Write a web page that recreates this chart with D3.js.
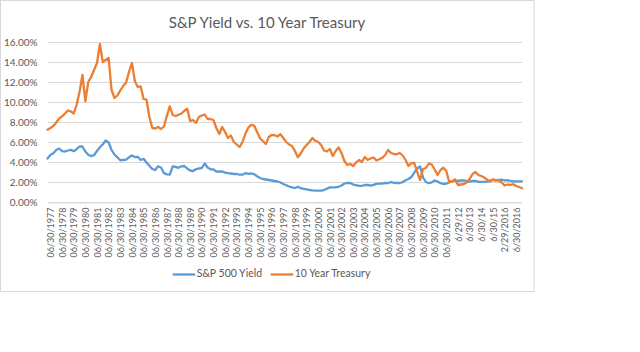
<!DOCTYPE html>
<html>
<head>
<meta charset="utf-8">
<script src="https://cdn.jsdelivr.net/npm/d3@7"></script>
<style>
  body { margin: 0; background: #fff; }
  svg { display: block; }
  text { font-family: Lato, "Open Sans", sans-serif; fill: #595959; }
</style>
</head>
<body>
<svg id="chart" width="640" height="352"></svg>
<script>
// ---- Data ----
const spYield = [
  4.35, 4.7, 4.87, 5.2, 5.35, 5.08, 5.05, 5.15, 5.22, 5.08,
  5.28, 5.55, 5.55, 5.05, 4.72, 4.58, 4.68, 5.1, 5.47, 5.78,
  6.15, 5.95, 5.2, 4.75, 4.47, 4.17, 4.2, 4.23, 4.47, 4.65,
  4.5, 4.52, 4.2, 4.32, 3.95, 3.62, 3.3, 3.2, 3.57, 3.45,
  2.88, 2.77, 2.73, 3.57, 3.52, 3.42, 3.57, 3.6, 3.35, 3.15,
  3.1, 3.28, 3.35, 3.4, 3.85, 3.45, 3.27, 3.25, 3.03, 3.07,
  3.05, 2.94, 2.88, 2.85, 2.8, 2.8, 2.73, 2.73, 2.88, 2.82,
  2.85, 2.78, 2.57, 2.4, 2.3, 2.25, 2.2, 2.15, 2.1, 2.05,
  1.95, 1.8, 1.68, 1.55, 1.47, 1.4, 1.53, 1.38, 1.31, 1.27,
  1.2, 1.16, 1.13, 1.13, 1.13, 1.19, 1.34, 1.46, 1.47, 1.47,
  1.52, 1.65, 1.85, 1.92, 1.9, 1.74, 1.68, 1.62, 1.62, 1.7,
  1.72, 1.63, 1.72, 1.82, 1.84, 1.84, 1.9, 1.88, 2.0, 1.92,
  1.9, 1.9, 1.98, 2.18, 2.3, 2.5, 2.93, 3.35, 3.55, 2.45,
  2.0, 1.88, 1.96, 2.15, 2.05, 1.88, 1.8, 1.83, 1.97, 2.08,
  2.13, 2.1, 2.15, 2.17, 2.1, 2.04, 2.1, 2.12, 2.02, 2.02,
  2.01, 2.03, 2.13, 2.2, 2.15, 2.22, 2.23, 2.15, 2.18, 2.12,
  2.07, 2.07, 2.07, 2.07
];
const treasury = [
  7.23, 7.4, 7.6, 7.95, 8.35, 8.57, 8.85, 9.15, 9.07, 8.85,
  9.7, 11.0, 12.7, 10.1, 12.0, 12.5, 13.2, 13.9, 15.8, 14.0,
  14.2, 14.4, 11.2, 10.4, 10.65, 11.15, 11.6, 11.95, 13.0, 13.9,
  12.1, 11.5, 11.57, 10.3, 10.23, 8.5, 7.4, 7.35, 7.5, 7.3,
  7.55, 8.6, 9.57, 8.7, 8.6, 8.72, 8.85, 9.12, 9.33, 8.1,
  8.2, 7.9, 8.5, 8.65, 8.75, 8.3, 8.3, 8.2, 7.4, 6.8,
  7.5, 7.0, 6.4, 6.65, 6.0, 5.75, 5.5, 6.0, 6.85, 7.45,
  7.72, 7.65, 7.0, 6.37, 6.1, 5.8, 6.5, 6.7, 6.68, 6.55,
  6.78, 6.4, 6.0, 5.75, 5.6, 5.1, 4.48, 4.85, 5.35, 5.7,
  6.0, 6.4, 6.12, 6.0, 5.7, 5.15, 5.05, 5.3, 4.6, 5.1,
  5.45, 4.9, 4.1, 3.7, 3.8, 3.6, 3.95, 4.2, 4.0, 4.5,
  4.22, 4.35, 4.45, 4.15, 4.27, 4.42, 4.7, 5.2, 4.9, 4.8,
  4.77, 4.9, 4.65, 4.2, 3.6, 3.88, 3.9, 3.0, 2.2, 3.3,
  3.4, 3.85, 3.75, 3.25, 2.7, 3.2, 3.43, 3.1, 2.0, 2.05,
  2.27, 1.7, 1.75, 1.8, 1.95, 2.3, 2.78, 3.0, 2.7, 2.6,
  2.45, 2.22, 2.05, 2.25, 2.2, 2.15, 1.95, 1.65, 1.75, 1.7,
  1.78, 1.6, 1.5, 1.37
];
const tickLabels = [
  "06/30/1977", "06/30/1978", "06/30/1979", "06/30/1980", "06/30/1981",
  "06/30/1982", "06/30/1983", "06/30/1984", "06/30/1985", "06/30/1986",
  "06/30/1987", "06/30/1988", "06/30/1989", "06/30/1990", "06/30/1991",
  "06/30/1992", "06/30/1993", "06/30/1994", "06/30/1995", "06/30/1996",
  "06/30/1997", "06/30/1998", "06/30/1999", "06/30/2000", "06/30/2001",
  "06/30/2002", "06/30/2003", "06/30/2004", "06/30/2005", "06/30/2006",
  "06/30/2007", "06/30/2008", "06/30/2009", "06/30/2010", "06/30/2011",
  "6/29/12", "6/30/13", "6/30/14", "6/30/15", "2/29/2016", "6/30/2016"
];
const tickStart = 1, tickStep = 4;   // labelled category every 4th point
const yTicks = [0, 2, 4, 6, 8, 10, 12, 14, 16];
const seriesNames = ["S&P 500 Yield", "10 Year Treasury"];
const seriesColors = ["#5B9BD5", "#ED7D31"];
const chartTitle = "S&P Yield vs. 10 Year Treasury";

// ---- Layout ----
const svg = d3.select("#chart");
const plotL = 47.5, plotR = 522, plotT = 42, plotB = 202;

svg.append("rect")
  .attr("x", 0.5).attr("y", 0.5).attr("width", 533.5).attr("height", 291)
  .attr("fill", "#fff").attr("stroke", "#D9D9D9").attr("stroke-width", 1);

const N = spYield.length;
const x = d3.scaleLinear().domain([0, N - 1]).range([plotL, plotR]);
const y = d3.scaleLinear().domain([0, 16]).range([plotB, plotT]);

// title
svg.append("text")
  .attr("x", 267).attr("y", 24)
  .attr("text-anchor", "middle").attr("dominant-baseline", "middle")
  .style("font-size", "15px")
  .text(chartTitle);

// gridlines
svg.append("g").selectAll("line").data(yTicks).join("line")
  .attr("x1", plotL).attr("x2", plotR)
  .attr("y1", d => Math.round(y(d)) + 0.5).attr("y2", d => Math.round(y(d)) + 0.5)
  .attr("stroke", "#D9D9D9").attr("stroke-width", 1);

// y axis
const yAxis = svg.append("g")
  .attr("transform", `translate(${plotL},0.5)`)
  .call(d3.axisLeft(y).tickValues(yTicks).tickFormat(d => d.toFixed(2) + "%").tickSize(0).tickPadding(10));
yAxis.select(".domain").remove();
yAxis.selectAll("text").style("font-size", "10px").style("font-family", "Lato, sans-serif").attr("fill", "#595959");

// x axis
const tickIdx = tickLabels.map((_, i) => tickStart + i * tickStep);
const xAxis = svg.append("g")
  .attr("transform", `translate(0,${Math.round(plotB) + 0.5})`)
  .call(d3.axisBottom(x).tickValues(tickIdx).tickFormat((d, i) => tickLabels[i]).tickSize(0).tickSizeOuter(0));
xAxis.select(".domain").attr("stroke", "#D9D9D9");
xAxis.selectAll("text")
  .attr("transform", "rotate(-90)")
  .attr("x", -5).attr("y", 0).attr("dy", "0.35em")
  .style("text-anchor", "end")
  .style("font-size", "9px").style("font-family", "Lato, sans-serif")
  .attr("fill", "#6b6b6b");

// lines
const line = d3.line().x((d, i) => x(i)).y(d => y(d));
[spYield, treasury].forEach((s, k) => {
  svg.append("path").datum(s)
    .attr("d", line)
    .attr("fill", "none")
    .attr("stroke", seriesColors[k])
    .attr("stroke-width", 2.3)
    .attr("stroke-linejoin", "round")
    .attr("stroke-linecap", "round");
});

// legend
const legendPos = [172.7, 270.7];
const legY = 274.5;
const leg = svg.append("g");
seriesNames.forEach((name, k) => {
  leg.append("line")
    .attr("x1", legendPos[k]).attr("x2", legendPos[k] + 22.5)
    .attr("y1", legY).attr("y2", legY)
    .attr("stroke", seriesColors[k]).attr("stroke-width", 2.3);
  leg.append("text")
    .attr("x", legendPos[k] + 24).attr("y", legY)
    .attr("dominant-baseline", "middle")
    .style("font-size", "10.5px")
    .text(name);
});
</script>
</body>
</html>
